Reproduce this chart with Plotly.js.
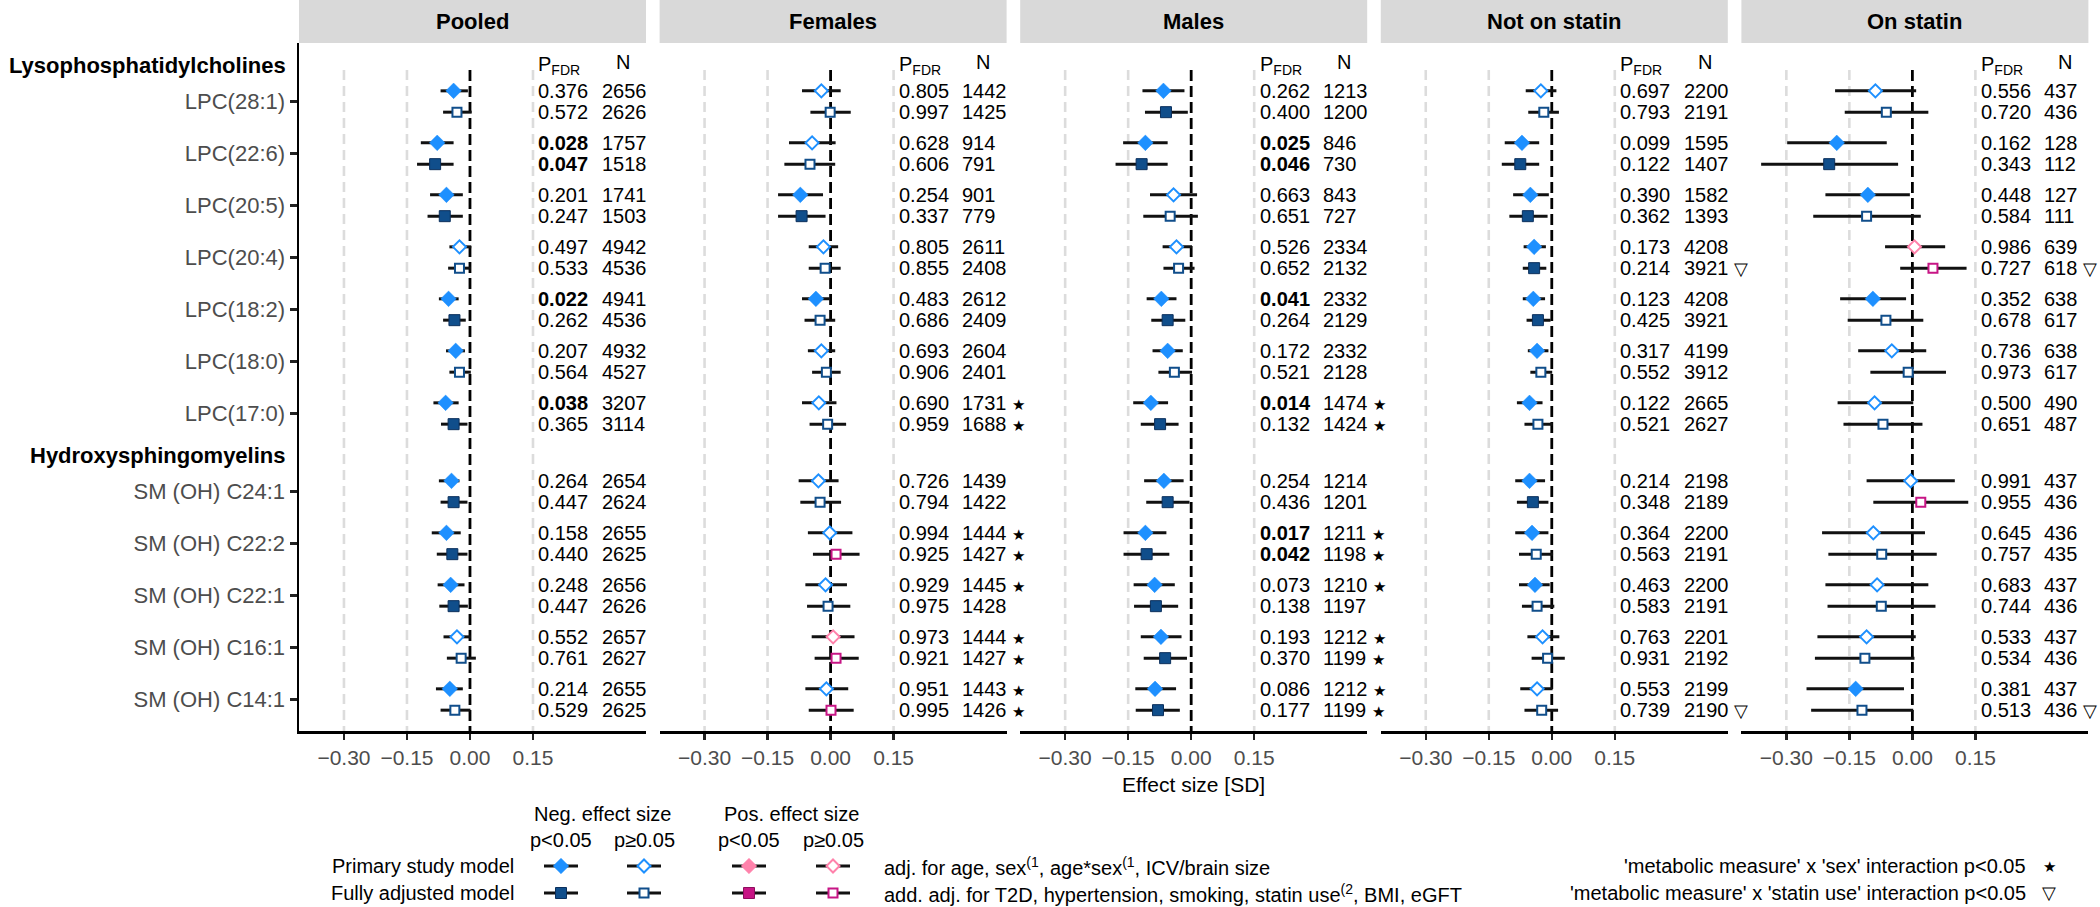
<!DOCTYPE html>
<html><head><meta charset="utf-8">
<script src="https://cdn.plot.ly/plotly-3.0.1.min.js"></script>
<style>html,body{margin:0;padding:0;background:#fff}#chart{width:2100px;height:907px}</style>
</head><body><div id="chart"></div>
<script>
// ---------------- DATA ----------------
const metabolites = ['LPC(28:1)','LPC(22:6)','LPC(20:5)','LPC(20:4)','LPC(18:2)','LPC(18:0)','LPC(17:0)',
  'SM (OH) C24:1','SM (OH) C22:2','SM (OH) C22:1','SM (OH) C16:1','SM (OH) C14:1'];
const groupNames = ['Lysophosphatidylcholines','Hydroxysphingomyelins'];
const groupSizes = [7, 5];
const panelTitles = ['Pooled','Females','Males','Not on statin','On statin'];
const xTicks = [-0.30, -0.15, 0.00, 0.15];

// Pooled
const pooled_primary_est = [-0.039,-0.078,-0.056,-0.025,-0.051,-0.034,-0.058,-0.044,-0.056,-0.046,-0.031,-0.048];
const pooled_primary_lo  = [-0.070,-0.117,-0.095,-0.049,-0.074,-0.057,-0.087,-0.074,-0.091,-0.077,-0.063,-0.081];
const pooled_primary_hi  = [-0.005,-0.039,-0.017, 0.003,-0.027,-0.012,-0.027,-0.025,-0.022,-0.013, 0.002,-0.017];
const pooled_full_est    = [-0.031,-0.083,-0.060,-0.025,-0.037,-0.025,-0.039,-0.039,-0.042,-0.039,-0.021,-0.036];
const pooled_full_lo     = [-0.064,-0.126,-0.101,-0.052,-0.064,-0.049,-0.069,-0.070,-0.079,-0.073,-0.055,-0.070];
const pooled_full_hi     = [ 0.004,-0.039,-0.017, 0.002,-0.010, 0.002,-0.006,-0.006,-0.006,-0.005, 0.014, 0.001];
const pooled_primary_pfdr = [0.376,0.028,0.201,0.497,0.022,0.207,0.038,0.264,0.158,0.248,0.552,0.214];
const pooled_full_pfdr    = [0.572,0.047,0.247,0.533,0.262,0.564,0.365,0.447,0.440,0.447,0.761,0.529];
const pooled_primary_n = [2656,1757,1741,4942,4941,4932,3207,2654,2655,2656,2657,2655];
const pooled_full_n    = [2626,1518,1503,4536,4536,4527,3114,2624,2625,2626,2627,2625];

// Females
const females_primary_est = [-0.022,-0.044,-0.072,-0.017,-0.035,-0.022,-0.028,-0.029,-0.002,-0.012, 0.006,-0.010];
const females_primary_lo  = [-0.068,-0.099,-0.125,-0.052,-0.068,-0.054,-0.068,-0.076,-0.054,-0.060,-0.045,-0.060];
const females_primary_hi  = [ 0.024, 0.012,-0.018, 0.018,-0.002, 0.011, 0.014, 0.019, 0.052, 0.039, 0.057, 0.042];
const females_full_est    = [-0.001,-0.049,-0.069,-0.013,-0.025,-0.010,-0.007,-0.025, 0.013,-0.006, 0.013, 0.001];
const females_full_lo     = [-0.048,-0.110,-0.125,-0.052,-0.062,-0.044,-0.050,-0.072,-0.042,-0.056,-0.038,-0.052];
const females_full_hi     = [ 0.048, 0.011,-0.012, 0.024, 0.011, 0.024, 0.037, 0.025, 0.069, 0.047, 0.067, 0.055];
const females_primary_pfdr = [0.805,0.628,0.254,0.805,0.483,0.693,0.690,0.726,0.994,0.929,0.973,0.951];
const females_full_pfdr    = [0.997,0.606,0.337,0.855,0.686,0.906,0.959,0.794,0.925,0.975,0.921,0.995];
const females_primary_n = [1442,914,901,2611,2612,2604,1731,1439,1444,1445,1444,1443];
const females_full_n    = [1425,791,779,2408,2409,2401,1688,1422,1427,1428,1427,1426];

// Males
const males_primary_est = [-0.066,-0.109,-0.042,-0.035,-0.071,-0.056,-0.096,-0.065,-0.109,-0.087,-0.072,-0.086];
const males_primary_lo  = [-0.116,-0.162,-0.098,-0.068,-0.106,-0.092,-0.138,-0.112,-0.161,-0.137,-0.120,-0.133];
const males_primary_hi  = [-0.016,-0.056, 0.014, 0.002,-0.035,-0.020,-0.055,-0.018,-0.059,-0.039,-0.023,-0.036];
const males_full_est    = [-0.060,-0.118,-0.050,-0.030,-0.056,-0.040,-0.074,-0.056,-0.106,-0.084,-0.062,-0.079];
const males_full_lo     = [-0.110,-0.180,-0.114,-0.066,-0.095,-0.078,-0.120,-0.107,-0.161,-0.136,-0.113,-0.132];
const males_full_hi     = [-0.008,-0.056, 0.016, 0.008,-0.014, 0.002,-0.030,-0.004,-0.052,-0.031,-0.010,-0.027];
const males_primary_pfdr = [0.262,0.025,0.663,0.526,0.041,0.172,0.014,0.254,0.017,0.073,0.193,0.086];
const males_full_pfdr    = [0.400,0.046,0.651,0.652,0.264,0.521,0.132,0.436,0.042,0.138,0.370,0.177];
const males_primary_n = [1213,846,843,2334,2332,2332,1474,1214,1211,1210,1212,1212];
const males_full_n    = [1200,730,727,2132,2129,2128,1424,1201,1198,1197,1199,1199];

// Not on statin
const nostatin_primary_est = [-0.026,-0.071,-0.051,-0.042,-0.044,-0.035,-0.053,-0.053,-0.047,-0.040,-0.022,-0.035];
const nostatin_primary_lo  = [-0.062,-0.112,-0.092,-0.067,-0.069,-0.057,-0.083,-0.087,-0.087,-0.078,-0.058,-0.075];
const nostatin_primary_hi  = [ 0.011,-0.030,-0.007,-0.014,-0.016,-0.008,-0.022,-0.016,-0.008,-0.005, 0.018, 0.002];
const nostatin_full_est    = [-0.019,-0.075,-0.057,-0.042,-0.033,-0.026,-0.033,-0.045,-0.037,-0.035,-0.010,-0.024];
const nostatin_full_lo     = [-0.056,-0.119,-0.101,-0.069,-0.060,-0.051,-0.065,-0.083,-0.078,-0.071,-0.048,-0.065];
const nostatin_full_hi     = [ 0.017,-0.030,-0.010,-0.013,-0.003, 0.001, 0.002,-0.008, 0.003, 0.006, 0.031, 0.015];
const nostatin_primary_pfdr = [0.697,0.099,0.390,0.173,0.123,0.317,0.122,0.214,0.364,0.463,0.763,0.553];
const nostatin_full_pfdr    = [0.793,0.122,0.362,0.214,0.425,0.552,0.521,0.348,0.563,0.583,0.931,0.739];
const nostatin_primary_n = [2200,1595,1582,4208,4208,4199,2665,2198,2200,2200,2201,2199];
const nostatin_full_n    = [2191,1407,1393,3921,3921,3912,2627,2189,2191,2191,2192,2190];

// On statin
const statin_primary_est = [-0.088,-0.180,-0.106, 0.005,-0.094,-0.049,-0.090,-0.004,-0.093,-0.084,-0.109,-0.135];
const statin_primary_lo  = [-0.184,-0.298,-0.207,-0.065,-0.172,-0.129,-0.178,-0.109,-0.215,-0.207,-0.226,-0.252];
const statin_primary_hi  = [ 0.009,-0.061,-0.006, 0.078,-0.015, 0.033, 0.002, 0.101, 0.030, 0.038, 0.008,-0.020];
const statin_full_est    = [-0.062,-0.198,-0.109, 0.049,-0.063,-0.010,-0.070, 0.020,-0.073,-0.074,-0.113,-0.120];
const statin_full_lo     = [-0.161,-0.360,-0.236,-0.029,-0.154,-0.100,-0.164,-0.093,-0.200,-0.202,-0.232,-0.241];
const statin_full_hi     = [ 0.038,-0.034, 0.020, 0.129, 0.026, 0.080, 0.024, 0.133, 0.058, 0.055, 0.005, 0.002];
const statin_primary_pfdr = [0.556,0.162,0.448,0.986,0.352,0.736,0.500,0.991,0.645,0.683,0.533,0.381];
const statin_full_pfdr    = [0.720,0.343,0.584,0.727,0.678,0.973,0.651,0.955,0.757,0.744,0.534,0.513];
const statin_primary_n = [437,128,127,639,638,638,490,437,436,437,437,437];
const statin_full_n    = [436,112,111,618,617,617,487,436,435,436,436,436];

// interaction flags (1 = p<0.05)
const sex_interaction_primary = [0,0,0,0,0,0,1,0,1,1,1,1];
const sex_interaction_full    = [0,0,0,0,0,0,1,0,1,0,1,1];
const statin_interaction_primary = [0,0,0,0,0,0,0,0,0,0,0,0];
const statin_interaction_full    = [0,0,0,1,0,0,0,0,0,0,0,1];

// ---------------- LAYOUT CONSTANTS ----------------
const W = 2100, H = 907;
const PANEL_LEFT = 299, PANEL_PITCH = 360.6, PANEL_W = 347;
const PLOT_TOP = 43, PLOT_BOTTOM = 731, ROW_PX = 52;
const X_RANGE = [-0.407, 0.419];
const Y_MAX = (PLOT_BOTTOM - PLOT_TOP) / ROW_PX;
const FIRST_CENTER = 1.125, GROUP_GAP = 0.5, PAIR_OFF = 0.205;
const PFDR_X = 0.158, N_X = 0.309, NHEAD_X = 0.364;
const FONT = 'Liberation Sans, Arial, Helvetica, sans-serif';
const C_NEG = '#1E90FF', C_NEG_DARK = '#104E8B', C_POS = '#FF82AB', C_POS_DARK = '#C71585';

const px = x => x / W;
const py = y => 1 - y / H;

const panels = [
  {primary:{est:pooled_primary_est, lo:pooled_primary_lo, hi:pooled_primary_hi, pfdr:pooled_primary_pfdr, n:pooled_primary_n},
   full:{est:pooled_full_est, lo:pooled_full_lo, hi:pooled_full_hi, pfdr:pooled_full_pfdr, n:pooled_full_n}, mark:null},
  {primary:{est:females_primary_est, lo:females_primary_lo, hi:females_primary_hi, pfdr:females_primary_pfdr, n:females_primary_n},
   full:{est:females_full_est, lo:females_full_lo, hi:females_full_hi, pfdr:females_full_pfdr, n:females_full_n},
   mark:{symbol:'★', size:15, primary:sex_interaction_primary, full:sex_interaction_full}},
  {primary:{est:males_primary_est, lo:males_primary_lo, hi:males_primary_hi, pfdr:males_primary_pfdr, n:males_primary_n},
   full:{est:males_full_est, lo:males_full_lo, hi:males_full_hi, pfdr:males_full_pfdr, n:males_full_n},
   mark:{symbol:'★', size:15, primary:sex_interaction_primary, full:sex_interaction_full}},
  {primary:{est:nostatin_primary_est, lo:nostatin_primary_lo, hi:nostatin_primary_hi, pfdr:nostatin_primary_pfdr, n:nostatin_primary_n},
   full:{est:nostatin_full_est, lo:nostatin_full_lo, hi:nostatin_full_hi, pfdr:nostatin_full_pfdr, n:nostatin_full_n},
   mark:{symbol:'▽', size:18, primary:statin_interaction_primary, full:statin_interaction_full}},
  {primary:{est:statin_primary_est, lo:statin_primary_lo, hi:statin_primary_hi, pfdr:statin_primary_pfdr, n:statin_primary_n},
   full:{est:statin_full_est, lo:statin_full_lo, hi:statin_full_hi, pfdr:statin_full_pfdr, n:statin_full_n},
   mark:{symbol:'▽', size:18, primary:statin_interaction_primary, full:statin_interaction_full}}
];

// row centers from group structure
const rowCenters = [], headerPos = [];
let pos = FIRST_CENTER;
groupSizes.forEach(g => {
  headerPos.push(pos - 0.7);
  for (let k = 0; k < g; k++) { rowCenters.push(pos); pos += 1; }
  pos += GROUP_GAP;
});

function markerStyle(model, cat) {
  const isDiamond = model === 'primary';
  const sig = cat.endsWith('Sig');
  const neg = cat.startsWith('neg');
  const light = neg ? C_NEG : C_POS;
  const dark = neg ? C_NEG_DARK : C_POS_DARK;
  if (isDiamond) {
    return sig ? {symbol:'diamond', size:12, color:light, line:{color:light, width:0.5}}
               : {symbol:'diamond', size:10, color:'#ffffff', line:{color:light, width:2}};
  }
  return sig ? {symbol:'square', size:11, color:dark, line:{color: neg ? '#0B2F5C' : '#8E0E5E', width:1}}
             : {symbol:'square', size:9, color:'#ffffff', line:{color:dark, width:2}};
}
function category(e, lo, hi) {
  const sig = lo > 0 || hi < 0;
  return (e < 0 ? 'neg' : 'pos') + (sig ? 'Sig' : 'Ns');
}

const traces = [], annotations = [], shapes = [];
const layout = {
  width: W, height: H, margin:{l:0, r:0, t:0, b:0},
  paper_bgcolor:'#ffffff', plot_bgcolor:'rgba(0,0,0,0)',
  showlegend:false, font:{family:FONT, color:'#000'},
  yaxis: {
    domain:[py(PLOT_BOTTOM), py(PLOT_TOP)], range:[Y_MAX, 0], anchor:'x',
    tickvals: rowCenters, ticktext: metabolites, ticks:'outside', ticklen:7, tickwidth:2.5, tickcolor:'#222',
    showline:true, linecolor:'#000', linewidth:2.5, showgrid:false, zeroline:false,
    tickfont:{size:22, color:'#4D4D4D', family:FONT}, fixedrange:true
  }
};

panels.forEach((pan, k) => {
  const left = PANEL_LEFT + k * PANEL_PITCH;
  const axName = k === 0 ? 'xaxis' : 'xaxis' + (k + 1);
  const xa = k === 0 ? 'x' : 'x' + (k + 1);
  layout[axName] = {
    domain:[px(left), px(left + PANEL_W)], range:X_RANGE, anchor:'y',
    tickvals:xTicks, tickformat:'.2f', ticks:'outside', ticklen:6, tickwidth:2.5, tickcolor:'#222',
    showline:true, linecolor:'#000', linewidth:2.5, showgrid:false, zeroline:false,
    tickfont:{size:21, color:'#4D4D4D', family:FONT}, fixedrange:true
  };
  // strip
  shapes.push({type:'rect', xref:'paper', yref:'paper', x0:px(left), x1:px(left + PANEL_W), y0:py(PLOT_TOP), y1:1,
    fillcolor:'#D9D9D9', line:{width:0}, layer:'below'});
  annotations.push({xref:'paper', yref:'paper', x:px(left + PANEL_W / 2), y:py(PLOT_TOP / 2), text:'<b>' + panelTitles[k] + '</b>',
    showarrow:false, font:{size:22, color:'#000'}, xanchor:'center', yanchor:'middle'});
  // reference lines
  xTicks.forEach(t => {
    const zero = t === 0;
    shapes.push({type:'line', xref:xa, yref:'y', x0:t, x1:t, y0:0.52, y1:Y_MAX, layer:'below',
      line: zero ? {color:'#000', width:2.8, dash:'11px,5px'} : {color:'#DCDCDC', width:2.6, dash:'10px,6px'}});
  });
  // column headers
  annotations.push({xref:xa, yref:'y', x:PFDR_X, y:0.43, xanchor:'left', yanchor:'middle', showarrow:false,
    text:'P<sub>FDR</sub>', font:{size:20, color:'#000'}});
  annotations.push({xref:xa, yref:'y', x:NHEAD_X, y:0.365, xanchor:'center', yanchor:'middle', showarrow:false,
    text:'N', font:{size:20, color:'#000'}});

  ['primary', 'full'].forEach((model, mi) => {
    const d = pan[model];
    const yOf = i => rowCenters[i] + (mi === 0 ? -PAIR_OFF : PAIR_OFF);
    ['negSig', 'negNs', 'posSig', 'posNs'].forEach(cat => {
      const idx = metabolites.map((_, i) => i).filter(i => category(d.est[i], d.lo[i], d.hi[i]) === cat);
      if (!idx.length) return;
      traces.push({
        type:'scatter', mode:'markers', xaxis:xa, yaxis:'y', hoverinfo:'skip',
        x: idx.map(i => d.est[i]), y: idx.map(yOf),
        error_x:{type:'data', symmetric:false, array: idx.map(i => d.hi[i] - d.est[i]),
          arrayminus: idx.map(i => d.est[i] - d.lo[i]), color:'#111', thickness:3, width:0},
        marker: markerStyle(model, cat), cliponaxis:false
      });
    });
    metabolites.forEach((_, i) => {
      const p = d.pfdr[i];
      const pt = p.toFixed(3);
      annotations.push({xref:xa, yref:'y', x:PFDR_X, y:yOf(i), xanchor:'left', yanchor:'middle', showarrow:false,
        text: p < 0.05 ? '<b>' + pt + '</b>' : pt, font:{size:20, color:'#000'}});
      let nt = String(d.n[i]);
      if (pan.mark && pan.mark[model][i]) nt += ' <span style="font-size:' + pan.mark.size + 'px">' + pan.mark.symbol + '</span>';
      annotations.push({xref:xa, yref:'y', x:N_X, y:yOf(i), xanchor:'left', yanchor:'middle', showarrow:false,
        text: nt, font:{size:20, color:'#000'}});
    });
  });
});

// group headers
groupNames.forEach((g, gi) => {
  annotations.push({xref:'paper', yref:'y', x:px(288), y:headerPos[gi], xanchor:'right', yanchor:'middle', showarrow:false,
    text:'<b>' + g + '</b>', font:{size:22, color:'#000'}});
});

// x axis title
annotations.push({xref:'paper', yref:'paper', x:px(1193), y:py(784), xanchor:'center', yanchor:'middle', showarrow:false,
  text:'Effect size [SD]', font:{size:21, color:'#000'}});

// ---------------- LEGEND ----------------
const LEG_X = [561, 644, 749, 833];
const LEG_CATS = ['negSig', 'negNs', 'posSig', 'posNs'];
const LEG_HEAD_Y = 814, LEG_P_Y = 840;
const LEG_ROWS = [866, 893];
const LEG_HALF = 17;
layout.xaxis6 = {domain:[0, 1], range:[0, W], visible:false, fixedrange:true, anchor:'y6'};
layout.yaxis6 = {domain:[0, py(803)], range:[H, 803], visible:false, fixedrange:true, anchor:'x6'};
['primary', 'full'].forEach((model, mi) => {
  LEG_CATS.forEach((cat, ci) => {
    traces.push({type:'scatter', mode:'markers', xaxis:'x6', yaxis:'y6', hoverinfo:'skip',
      x:[LEG_X[ci]], y:[LEG_ROWS[mi]],
      error_x:{type:'constant', value:LEG_HALF, color:'#111', thickness:3, width:0},
      marker: markerStyle(model, cat), cliponaxis:false});
  });
});
const legText = (x, y, text, anchor, size) => annotations.push({xref:'paper', yref:'paper', x:px(x), y:py(y),
  xanchor:anchor, yanchor:'middle', showarrow:false, text, font:{size:size || 20, color:'#000'}});
legText(602, LEG_HEAD_Y, 'Neg. effect size', 'center');
legText(791, LEG_HEAD_Y, 'Pos. effect size', 'center');
['p<0.05', 'p≥0.05', 'p<0.05', 'p≥0.05'].forEach((t, i) => legText(LEG_X[i], LEG_P_Y, t, 'center'));
legText(516, LEG_ROWS[0], 'Primary study model', 'right');
legText(516, LEG_ROWS[1], 'Fully adjusted model', 'right');
legText(882, LEG_ROWS[0], 'adj. for age, sex<sup>(1</sup>, age*sex<sup>(1</sup>, ICV/brain size', 'left');
legText(882, LEG_ROWS[1], 'add. adj. for T2D, hypertension, smoking, statin use<sup>(2</sup>, BMI, eGFT', 'left');
legText(2028, LEG_ROWS[0], "'metabolic measure' x 'sex' interaction p<0.05", 'right');
legText(2028, LEG_ROWS[1], "'metabolic measure' x 'statin use' interaction p<0.05", 'right');
legText(2049, LEG_ROWS[0], '★', 'center', 15);
legText(2049, LEG_ROWS[1], '▽', 'center', 18);

layout.annotations = annotations;
layout.shapes = shapes;
Plotly.newPlot('chart', traces, layout, {staticPlot:true, displayModeBar:false});
</script></body></html>
